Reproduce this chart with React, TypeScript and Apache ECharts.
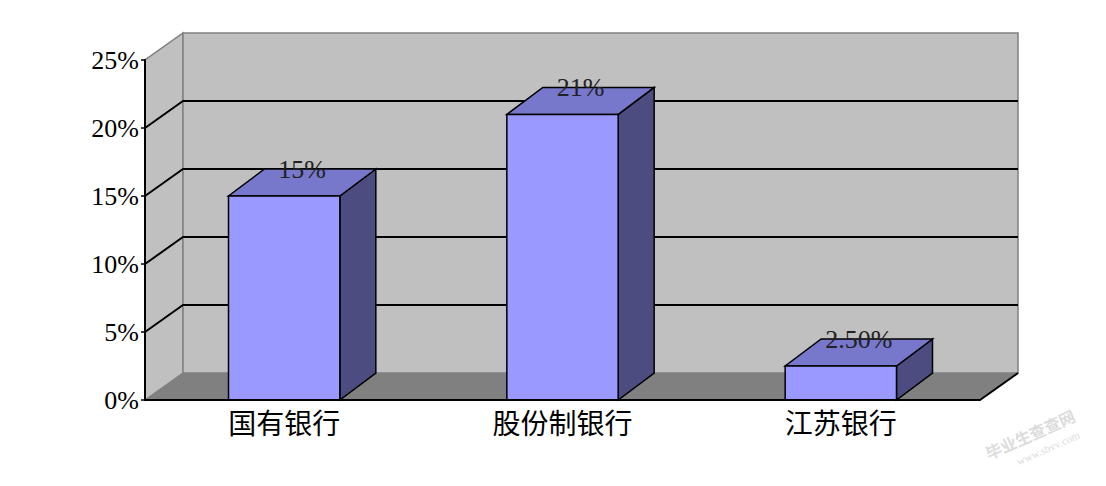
import React, { useEffect, useRef } from "react";
import * as echarts from "echarts";

const CATEGORIES = ["国有银行", "股份制银行", "江苏银行"];
const VALUES = [15, 21, 2.5];
const VALUE_LABELS = ["15%", "21%", "2.50%"];
const GRID_VALUES = [5, 10, 15, 20];

// 3D offsets (pixels)
const WALL_DX = 38;
const WALL_DY = -27;
const BAR_DX = 36;
const BAR_DY = -27;

export default function App() {
  const chartRef = useRef<HTMLDivElement>(null);

  useEffect(() => {
    if (!chartRef.current) return;
    const chart = echarts.init(chartRef.current, undefined, { renderer: "svg" });

    const renderWalls = (params: any, api: any) => {
      const cs = params.coordSys;
      const x0 = cs.x;
      const x1 = cs.x + cs.width;
      const yTop = cs.y;
      const yBot = cs.y + cs.height;
      const children: any[] = [
        {
          type: "polygon",
          shape: { points: [[x0, yBot], [x0, yTop], [x0 + WALL_DX, yTop + WALL_DY], [x0 + WALL_DX, yBot + WALL_DY]] },
          style: { fill: "#c0c0c0", stroke: "#808080", lineWidth: 1.5 },
        },
        {
          type: "rect",
          shape: { x: x0 + WALL_DX, y: yTop + WALL_DY, width: x1 - x0, height: yBot - yTop },
          style: { fill: "#c0c0c0", stroke: "#808080", lineWidth: 1.5 },
        },
        {
          type: "polygon",
          shape: { points: [[x0, yBot], [x1, yBot], [x1 + WALL_DX, yBot + WALL_DY], [x0 + WALL_DX, yBot + WALL_DY]] },
          style: { fill: "#808080", stroke: "none" },
        },
        {
          type: "line",
          shape: { x1: x1, y1: yBot, x2: x1 + WALL_DX, y2: yBot + WALL_DY },
          style: { stroke: "#000", lineWidth: 2 },
        },
      ];
      GRID_VALUES.forEach((v) => {
        const y = api.coord([0, v])[1];
        children.push({
          type: "polyline",
          shape: { points: [[x0, y], [x0 + WALL_DX, y + WALL_DY], [x1 + WALL_DX, y + WALL_DY]] },
          style: { stroke: "#000", lineWidth: 2, fill: "none" },
        });
      });
      return { type: "group", children };
    };

    const renderBar = (params: any, api: any) => {
      const idx = api.value(0);
      const val = api.value(1);
      const top = api.coord([idx, val]);
      const bot = api.coord([idx, 0]);
      const band = api.size([1, 0])[0];
      const w = band * 0.4;
      const xl = top[0] - w / 2;
      const xr = top[0] + w / 2;
      const yt = top[1];
      const yb = bot[1];
      const edge = { stroke: "#000", lineWidth: 1.5 };
      return {
        type: "group",
        children: [
          {
            type: "polygon",
            shape: { points: [[xr, yb], [xr, yt], [xr + BAR_DX, yt + BAR_DY], [xr + BAR_DX, yb + BAR_DY]] },
            style: { fill: "#4c4c80", ...edge },
          },
          {
            type: "polygon",
            shape: { points: [[xl, yt], [xr, yt], [xr + BAR_DX, yt + BAR_DY], [xl + BAR_DX, yt + BAR_DY]] },
            style: { fill: "#7777cc", ...edge },
          },
          {
            type: "rect",
            shape: { x: xl, y: yt, width: w, height: yb - yt },
            style: { fill: "#9999ff", ...edge },
          },
          {
            type: "text",
            x: top[0] + BAR_DX / 2,
            y: yt + BAR_DY,
            style: {
              text: VALUE_LABELS[params.dataIndex],
              fill: "#222",
              font: "26px 'Liberation Serif'",
              align: "center",
              verticalAlign: "middle",
            },
          },
        ],
      };
    };

    chart.setOption({
      animation: false,
      backgroundColor: "#fff",
      grid: { left: 145, right: 126, top: 60, bottom: 86 },
      xAxis: {
        type: "category",
        data: CATEGORIES,
        z: 10,
        axisLine: { lineStyle: { color: "#000", width: 2 } },
        axisTick: { inside: true, length: 6, lineStyle: { color: "#000", width: 1.5 } },
        axisLabel: { color: "#000", fontSize: 28, fontFamily: "Noto Sans CJK SC", margin: 8 },
      },
      yAxis: {
        type: "value",
        min: 0,
        max: 25,
        interval: 5,
        z: 10,
        axisLine: { show: true, lineStyle: { color: "#000", width: 2 } },
        axisTick: { show: true, length: 4, lineStyle: { color: "#000", width: 1.5 } },
        splitLine: { show: false },
        axisLabel: { color: "#000", fontSize: 26, fontFamily: "Liberation Serif", margin: 6, formatter: "{value}%" },
      },
      series: [
        {
          type: "custom",
          z: 1,
          silent: true,
          clip: false,
          renderItem: renderWalls,
          data: [[0, 0]],
        },
        {
          type: "custom",
          z: 5,
          clip: false,
          renderItem: renderBar,
          data: VALUES.map((v, i) => [i, v]),
        },
      ],
      graphic: [
        {
          type: "text",
          x: 1030,
          y: 434,
          rotation: 0.42,
          style: { text: "毕业生查查网", fill: "#dcdcdc", font: "bold 16px 'Noto Sans CJK SC'", align: "center", verticalAlign: "middle" },
        },
        {
          type: "text",
          x: 1048,
          y: 448,
          rotation: 0.42,
          style: { text: "www.sbvv.com", fill: "#dcdcdc", font: "11px 'Liberation Serif'", align: "center", verticalAlign: "middle" },
        },
      ],
    });

    return () => chart.dispose();
  }, []);

  return (
    <div
      ref={chartRef}
      style={{ position: "fixed", left: 0, top: 0, width: 1106, height: 486, background: "#fff" }}
    />
  );
}
